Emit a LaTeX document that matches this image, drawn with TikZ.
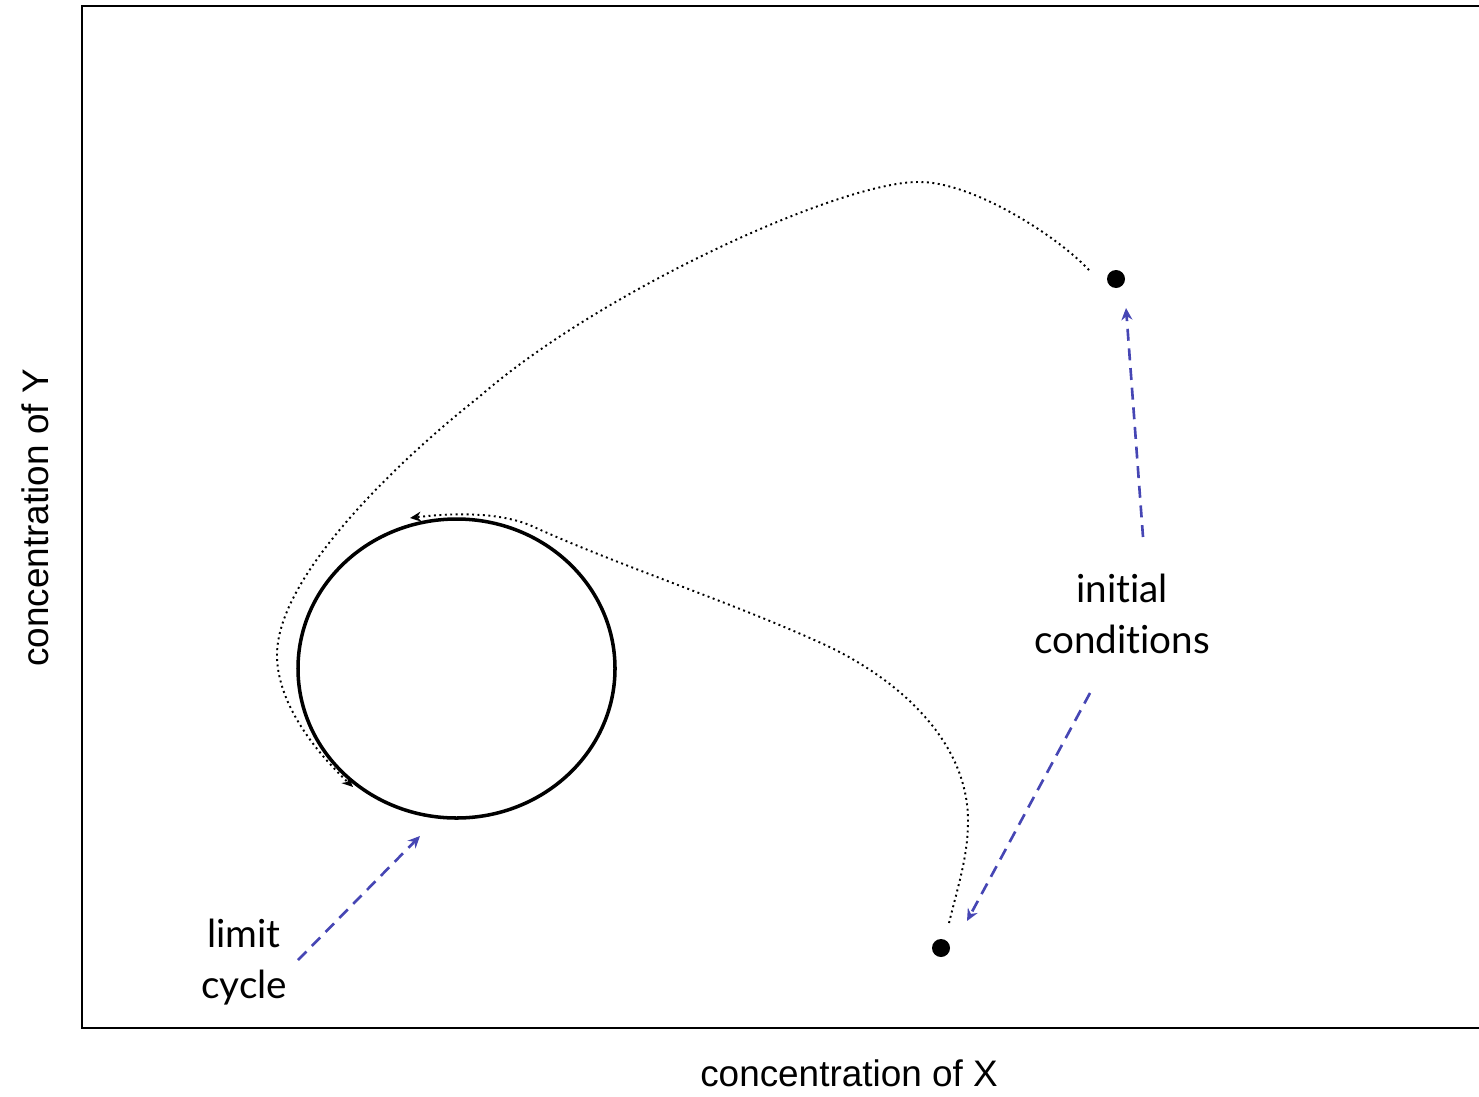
\documentclass[tikz,border=0pt]{standalone}
\usepackage{fontspec}
\setmainfont{Lato}[Ligatures={NoCommon,NoContextual}]
\newfontfamily\axisfont{Liberation Sans}
\usepackage{tikz}
\usetikzlibrary{arrows.meta,shapes.geometric}
\definecolor{PlotInk}{HTML}{000000}
\definecolor{PointerBlue}{HTML}{4646B4}
\tikzset{
  figure/.style={text=PlotInk},
  cycle/.style={ellipse,draw=PlotInk,line width=1pt,inner sep=0pt},
  seed/.style={circle,fill=PlotInk,minimum size=1.8mm,inner sep=0pt},
  orbit/.style={-{Stealth[length=1.1mm,width=1mm]},line width=0.55pt,densely dotted,draw=PlotInk},
  pointer/.style={-{Stealth[length=1.2mm,width=1.1mm]},line width=0.75pt,dash pattern=on 3.4pt off 2.2pt,draw=PointerBlue},
  note/.style={font=\fontsize{11}{14.5}\selectfont,align=center},
  axislabel/.style={font=\axisfont\fontsize{10.5}{12}\selectfont},
}

\begin{document}
\begin{tikzpicture}[figure]
  \useasboundingbox (0,0) rectangle (14.79,10.96);

  % plot frame (open on the right)
  \draw[line width=0.6pt] (14.79,10.90) -- (0.82,10.90) -- (0.82,0.68) -- (14.79,0.68);

  \node[axislabel] (xlab) at (8.49,0.23) {concentration of X};
  \node[axislabel,rotate=90] (ylab) at (0.35,5.78) {concentration of Y};

  % limit cycle and the two starting points
  \node[cycle,minimum width=3.17cm,minimum height=2.99cm] (limit) at (4.565,4.275) {};
  \node[seed] (icA) at (11.16,8.17) {};
  \node[seed] (icB) at (9.41,1.48) {};

  % trajectories
  \coordinate (trA start) at (10.89,8.26);
  \coordinate (trA end) at (3.53,3.09);
  \draw[orbit] (trA start) .. controls (10.55,8.62) and (9.7,9.15) .. (9.18,9.14)
    .. controls (8.4,9.14) and (6.0,8.05) .. (4.79,6.99)
    .. controls (3.99,6.36) and (2.77,5.2) .. (2.77,4.41)
    .. controls (2.77,3.9) and (3.2,3.4) .. (trA end);

  \coordinate (trB start) at (9.49,1.73);
  \coordinate (trB end) at (4.10,5.78);
  \draw[orbit] (trB start) .. controls (9.58,2.1) and (9.68,2.4) .. (9.68,2.75)
    .. controls (9.68,3.6) and (8.9,4.22) .. (8.21,4.53)
    .. controls (7.31,4.94) and (6.2,5.3) .. (5.34,5.69)
    .. controls (5.04,5.83) and (4.6,5.84) .. (trB end);

  % labels and pointers
  \node[note] (initial) at (11.22,4.82) {initial\\conditions};
  \node[note] (lc) at (2.44,1.34) {limit\\cycle};

  \coordinate (pA tail) at (11.43,5.59);
  \coordinate (pA tip) at (11.26,7.88);
  \coordinate (pB tail) at (10.90,4.03);
  \coordinate (pB tip) at (9.67,1.75);
  \coordinate (pC tail) at (2.98,1.36);
  \coordinate (pC tip) at (4.20,2.60);
  \draw[pointer] (pA tail) -- (pA tip);
  \draw[pointer] (pB tail) -- (pB tip);
  \draw[pointer] (pC tail) -- (pC tip);
\end{tikzpicture}
\end{document}
